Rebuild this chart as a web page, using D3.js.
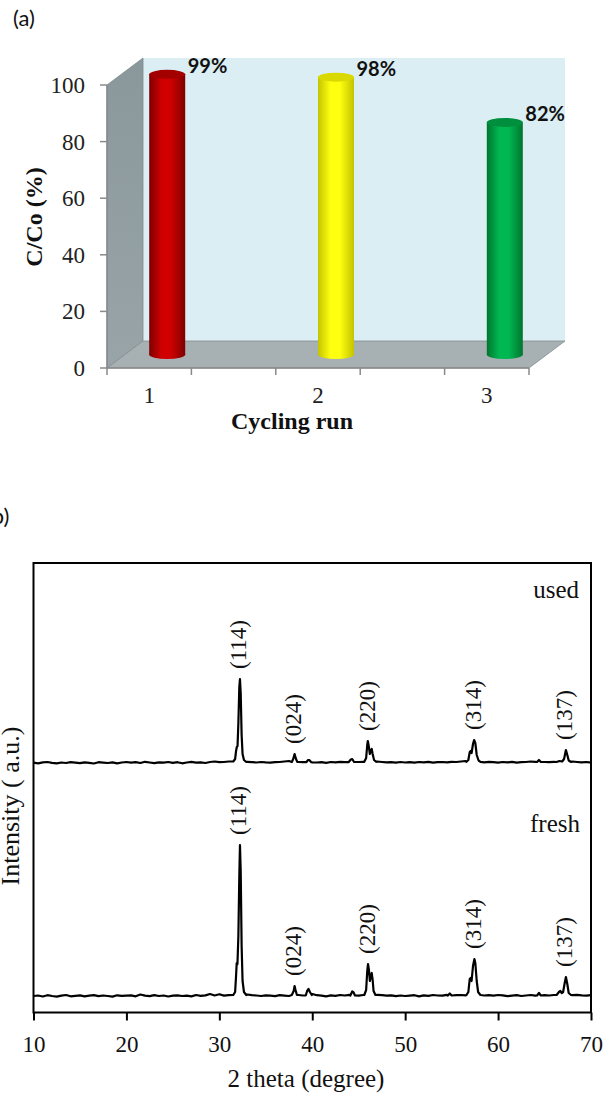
<!DOCTYPE html>
<html>
<head>
<meta charset="utf-8">
<script src="https://cdn.jsdelivr.net/npm/d3@7"></script>
<style>
  body { margin: 0; background: #fff; }
  svg { display: block; }
</style>
</head>
<body>
<svg id="fig" width="603" height="1093"></svg>
<script>
// ---------- (a) photocatalytic cycling runs ----------
const runs = [1, 2, 3];
const runLabels = ["1", "2", "3"];
const removal = [99, 98, 82];
const yTicksA = [0, 20, 40, 60, 80, 100];
const runPalette = [
  { edge: "#7e0000", mid: "#d00000", top: "#a30000" },
  { edge: "#c4c400", mid: "#ffff10", top: "#d9d900" },
  { edge: "#00762e", mid: "#00b852", top: "#008f3d" }
];

// ---------- (b) XRD patterns ----------
const thetaTicks = [10, 20, 30, 40, 50, 60, 70];
const baseStart = 10, baseStep = 0.5;
// background counts every 0.5 degree from 10 to 70
const freshBase = [
  0, 5, -5, 8, 0, -6, 4, 10, -3, 2, 6,
  -4, 3, 8, -2, 5, 0, -6, 7, 2, 4,
  6, -3, 15, 4, -2, 8, 0, 5, -5, 3,
  7, 0, 4, -4, 10, 2, 6, 20, 5, 18,
  4, 8, 10, 20, 30, 15, 8, 5, 0, 6,
  3, -2, 8, 4, 0, 6, 10, 5, 15, 20,
  8, 4, -3, 6, 2, 10, 5, 12, 8, 3,
  10, 15, 20, 12, 8, 4, 6, -2, 5, 0,
  4, 8, -4, 6, 2, 10, 5, 3, 12, 15,
  8, 10, 6, 15, 20, 12, 5, 8, 3, 10,
  6, -2, 4, 8, 0, 5, 10, 4, 20, 8,
  5, 10, 15, 20, 25, 8, 12, 6, 4, 8
];
const usedBase = [
  4, -3, 6, 10, 2, -4, 5, 0, 8, 3, -2,
  6, 2, -5, 8, 4, 0, 7, -3, 5, 10,
  3, 8, 0, 12, 5, -2, 6, 4, 10, 2,
  8, -3, 5, 12, 4, 6, 0, 10, 15, 8,
  10, 15, 20, 30, 25, 12, 8, 5, 10, 6,
  4, 8, 10, 15, 20, 12, 10, 8, 12, 6,
  5, 8, 2, 10, 6, 12, 8, 15, 20, 10,
  12, 18, 25, 15, 10, 6, 8, 4, 10, 5,
  8, 3, 10, 6, 12, 4, 8, 10, 6, 12,
  10, 15, 20, 25, 18, 10, 6, 12, 8, 4,
  10, 6, 12, 4, 8, 10, 15, 12, 20, 10,
  8, 12, 20, 25, 30, 15, 10, 6, 10, 4
];
// reflections as [2theta, counts]
const freshPeaks = [
  [[31.5, 10], [31.7, 40], [31.8, 200], [31.87, 330], [31.95, 320], [32.05, 600], [32.15, 1200], [32.22, 1510], [32.3, 1250], [32.4, 500], [32.5, 150], [32.65, 40], [32.9, 10]],
  [[37.8, 10], [38.0, 50], [38.1, 100], [38.2, 60], [38.35, 10]],
  [[39.3, 5], [39.45, 50], [39.6, 70], [39.75, 40], [39.95, 10]],
  [[44.1, 5], [44.3, 45], [44.45, 35], [44.6, 5]],
  [[45.6, 10], [45.8, 60], [45.92, 250], [46.0, 320], [46.1, 260], [46.2, 150], [46.3, 200], [46.4, 230], [46.5, 160], [46.6, 50], [46.8, 10]],
  [[54.6, 5], [54.8, 25], [55.0, 5]],
  [[56.6, 10], [56.8, 40], [56.95, 170], [57.05, 180], [57.15, 150], [57.3, 300], [57.45, 370], [57.55, 330], [57.7, 150], [57.85, 40], [58.1, 10]],
  [[64.2, 5], [64.4, 30], [64.6, 5]],
  [[66.3, 10], [66.55, 40], [66.7, 50], [66.85, 30], [67.0, 40], [67.15, 120], [67.3, 190], [67.45, 120], [67.6, 30], [67.85, 10]]
];
const usedPeaks = [
  [[31.5, 15], [31.7, 40], [31.8, 120], [31.88, 160], [31.96, 170], [32.05, 400], [32.15, 760], [32.22, 840], [32.3, 700], [32.4, 280], [32.5, 90], [32.65, 30], [32.9, 10]],
  [[37.8, 10], [37.95, 40], [38.1, 90], [38.25, 40], [38.4, 10]],
  [[39.35, 8], [39.55, 30], [39.7, 28], [39.9, 8]],
  [[43.9, 8], [44.15, 35], [44.3, 40], [44.5, 10]],
  [[45.6, 12], [45.8, 50], [45.92, 180], [45.98, 220], [46.08, 170], [46.2, 90], [46.3, 120], [46.4, 140], [46.5, 90], [46.65, 30], [46.9, 12]],
  [[56.6, 12], [56.8, 30], [56.95, 110], [57.05, 120], [57.15, 100], [57.3, 190], [57.42, 230], [57.55, 200], [57.7, 80], [57.9, 25], [58.1, 12]],
  [[64.2, 10], [64.4, 30], [64.6, 10]],
  [[66.3, 10], [66.6, 20], [66.9, 15], [67.1, 40], [67.3, 130], [67.45, 80], [67.6, 25], [67.85, 10]]
];
const hkl = ["(114)", "(024)", "(220)", "(314)", "(137)"];
const hklTheta = [32.2, 38.1, 46.0, 57.45, 67.3];
const freshHklCounts = [1510, 100, 320, 370, 190];
const usedHklCounts = [840, 90, 220, 230, 130];
const usedOffset = 2330;
const patternNames = ["fresh", "used"];

const svg = d3.select("#fig");
const serif = "'Liberation Serif', 'Times New Roman', serif";
const sans = "Lato, 'Open Sans', sans-serif";

// ================= (a) =================
const yA = d3.scaleLinear().domain([0, 100]).range([368, 85]);
const xA = d3.scaleLinear().domain([0.75, 3.25]).range([107, 529]);
const dep = { dx: 36, dy: -27 };  // full depth of the 3-D box
const mid = { dx: dep.dx / 2, dy: dep.dy / 2 };
const gA = svg.append("g");

const defs = svg.append("defs");
runPalette.forEach((c, i) => {
  const gr = defs.append("linearGradient").attr("id", "cyl" + i)
    .attr("x1", 0).attr("x2", 1).attr("y1", 0).attr("y2", 0);
  gr.append("stop").attr("offset", "0%").attr("stop-color", c.edge);
  gr.append("stop").attr("offset", "35%").attr("stop-color", c.mid);
  gr.append("stop").attr("offset", "60%").attr("stop-color", c.mid);
  gr.append("stop").attr("offset", "100%").attr("stop-color", c.edge);
});
const wallGrad = defs.append("linearGradient").attr("id", "sideWall")
  .attr("x1", 0).attr("x2", 0).attr("y1", 0).attr("y2", 1);
wallGrad.append("stop").attr("offset", "0%").attr("stop-color", "#8a979b");
wallGrad.append("stop").attr("offset", "100%").attr("stop-color", "#98a4a8");

const x0 = xA.range()[0], x1 = xA.range()[1];
const yb = yA(0), yt = yA(100);
// back wall
gA.append("rect")
  .attr("x", x0 + dep.dx).attr("y", yt + dep.dy)
  .attr("width", x1 - x0).attr("height", yb - yt)
  .attr("fill", "#dbeef4");
// side wall
gA.append("polygon")
  .attr("points", [[x0, yb], [x0, yt], [x0 + dep.dx, yt + dep.dy], [x0 + dep.dx, yb + dep.dy]].join(" "))
  .attr("fill", "url(#sideWall)").attr("stroke", "#7f8a8e").attr("stroke-width", 0.8);
// floor
gA.append("polygon")
  .attr("points", [[x0, yb], [x1, yb], [x1 + dep.dx, yb + dep.dy], [x0 + dep.dx, yb + dep.dy]].join(" "))
  .attr("fill", "#a7b0b3").attr("stroke", "#858d90").attr("stroke-width", 0.8);

// axes
gA.append("line").attr("x1", x0).attr("x2", x0).attr("y1", yt).attr("y2", yb)
  .attr("stroke", "#8a8a8a").attr("stroke-width", 1.5);
gA.append("line").attr("x1", x0).attr("x2", x1).attr("y1", yb).attr("y2", yb)
  .attr("stroke", "#8a8a8a").attr("stroke-width", 1.5);
gA.selectAll(".ytA").data(yTicksA).join("line")
  .attr("x1", x0 - 7).attr("x2", x0).attr("y1", d => yA(d)).attr("y2", d => yA(d))
  .attr("stroke", "#8a8a8a").attr("stroke-width", 1.5);
gA.selectAll(".ytlA").data(yTicksA).join("text")
  .attr("x", 85).attr("y", d => yA(d)).attr("dy", "0.35em")
  .attr("text-anchor", "end").attr("font-family", serif).attr("font-size", 23)
  .attr("fill", "#222").text(d => d);
const xTickPos = d3.range(0.75, 3.26, 0.5);
gA.selectAll(".xtA").data(xTickPos).join("line")
  .attr("x1", d => xA(d)).attr("x2", d => xA(d)).attr("y1", yb).attr("y2", yb + 7)
  .attr("stroke", "#8a8a8a").attr("stroke-width", 1.5);
gA.selectAll(".xtlA").data(runs).join("text")
  .attr("x", d => xA(d)).attr("y", 403)
  .attr("text-anchor", "middle").attr("font-family", serif).attr("font-size", 23)
  .attr("fill", "#222").text((d, i) => runLabels[i]);

// cylinders
const rx = 18, ry = 4.5;
runs.forEach((r, i) => {
  const cx = xA(r) + mid.dx;
  const base = yA(0) + mid.dy;
  const top = yA(removal[i]) + mid.dy;
  const c = runPalette[i];
  gA.append("ellipse").attr("cx", cx).attr("cy", base).attr("rx", rx).attr("ry", ry)
    .attr("fill", `url(#cyl${i})`);
  gA.append("rect").attr("x", cx - rx).attr("y", top).attr("width", 2 * rx).attr("height", base - top)
    .attr("fill", `url(#cyl${i})`);
  gA.append("ellipse").attr("cx", cx).attr("cy", top).attr("rx", rx).attr("ry", ry)
    .attr("fill", c.top);
  gA.append("text").attr("x", cx + rx + 2.5).attr("y", top - 1)
    .attr("font-family", sans).attr("font-weight", 700).attr("font-size", 20)
    .attr("fill", "#111").text(removal[i] + "%");
});

gA.append("text").attr("transform", "translate(42,217) rotate(-90)")
  .attr("text-anchor", "middle").attr("font-family", serif).attr("font-weight", 700)
  .attr("font-size", 24).attr("fill", "#111").text("C/Co (%)");
gA.append("text").attr("x", 292).attr("y", 429)
  .attr("text-anchor", "middle").attr("font-family", serif).attr("font-weight", 700)
  .attr("font-size", 24).attr("fill", "#111").text("Cycling run");
gA.append("text").attr("x", 13).attr("y", 26)
  .attr("font-family", sans).attr("font-size", 22).attr("fill", "#111").text("(a)");

// ================= (b) =================
const xB = d3.scaleLinear().domain([10, 70]).range([33.5, 591]);
const yB = d3.scaleLinear().domain([-165, 4330]).range([1012.5, 563]);
const gB = svg.append("g");

function pattern(base, peaks) {
  const pts = [];
  base.forEach((v, i) => {
    const t = baseStart + i * baseStep;
    if (!peaks.some(p => t >= p[0][0] && t <= p[p.length - 1][0])) pts.push([t, v]);
  });
  peaks.forEach(p => pts.push(...p));
  return pts.sort((a, b) => a[0] - b[0]);
}

const series = [
  { name: patternNames[0], pts: pattern(freshBase, freshPeaks), off: 0, counts: freshHklCounts },
  { name: patternNames[1], pts: pattern(usedBase, usedPeaks), off: usedOffset, counts: usedHklCounts }
];

gB.append("rect").attr("x", xB(10)).attr("y", yB(4330))
  .attr("width", xB(70) - xB(10)).attr("height", yB(-165) - yB(4330))
  .attr("fill", "none").attr("stroke", "#000").attr("stroke-width", 2);

series.forEach(s => {
  const line = d3.line().x(d => xB(d[0])).y(d => yB(d[1] + s.off));
  gB.append("path").datum(s.pts).attr("d", line)
    .attr("fill", "none").attr("stroke", "#000").attr("stroke-width", 2.2)
    .attr("stroke-linejoin", "round");
  hkl.forEach((h, i) => {
    const px = xB(hklTheta[i]) - 1;
    const py = yB(s.counts[i] + s.off) - 10;
    gB.append("text").attr("transform", `translate(${px},${py}) rotate(-90)`)
      .attr("dominant-baseline", "central")
      .attr("font-family", serif).attr("font-size", 23).attr("fill", "#111").text(h);
  });
});

gB.append("text").attr("x", 579).attr("y", 598).attr("text-anchor", "end")
  .attr("font-family", serif).attr("font-size", 25).attr("fill", "#111").text(patternNames[1]);
gB.append("text").attr("x", 580).attr("y", 832).attr("text-anchor", "end")
  .attr("font-family", serif).attr("font-size", 25).attr("fill", "#111").text(patternNames[0]);

const xAxisB = d3.axisBottom(xB).tickValues(thetaTicks).tickSize(8).tickPadding(4)
  .tickFormat(d3.format("d"));
const axB = gB.append("g").attr("transform", `translate(0,${yB(-165)})`).call(xAxisB);
axB.select(".domain").remove();
axB.selectAll(".tick line").attr("stroke", "#000").attr("stroke-width", 2);
axB.selectAll(".tick text").attr("font-family", serif).attr("font-size", 23)
  .attr("fill", "#111").attr("dy", null).attr("y", 39.5);

gB.append("text").attr("x", 306).attr("y", 1087).attr("text-anchor", "middle")
  .attr("font-family", serif).attr("font-size", 25).attr("fill", "#111").text("2 theta (degree)");
gB.append("text").attr("transform", "translate(19,806) rotate(-90)").attr("text-anchor", "middle")
  .attr("font-family", serif).attr("font-size", 26).attr("fill", "#111").text("Intensity ( a.u.)");
gB.append("text").attr("x", -14).attr("y", 524)
  .attr("font-family", sans).attr("font-size", 22).attr("fill", "#111").text("(b)");
</script>
</body>
</html>
